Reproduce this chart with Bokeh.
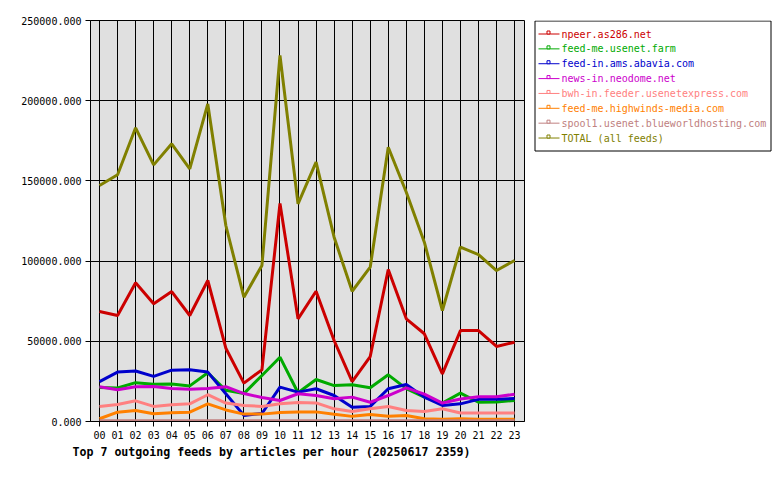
from bokeh.plotting import figure
from bokeh.layouts import row
from bokeh.models import Range1d, FixedTicker, PrintfTickFormatter, Title
from bokeh.core.properties import value
from bokeh.embed import file_html
from bokeh.resources import INLINE

# Hours of the day (x axis)
hours = ["00", "01", "02", "03", "04", "05", "06", "07", "08", "09", "10", "11",
         "12", "13", "14", "15", "16", "17", "18", "19", "20", "21", "22", "23"]

# Articles per hour for each outgoing feed
npeer = [68600, 66100, 86500, 73400, 81000, 66100, 87900, 45700, 23900, 32200, 135900, 64000,
         81200, 50500, 24900, 40500, 94800, 64000, 54700, 29700, 56700, 56700, 46800, 49400]
usenet_farm = [21200, 20900, 24200, 23200, 23400, 22200, 30400, 19500, 17400, 28700, 40100, 17900,
               26200, 22400, 22900, 21000, 29100, 20500, 15200, 11500, 17700, 12000, 12200, 13100]
abavia = [24900, 30800, 31500, 28100, 32000, 32200, 30800, 17300, 3800, 5000, 21400, 18300,
          20400, 16200, 8900, 9400, 20400, 23100, 15200, 10000, 11000, 13800, 13800, 14400]
neodome = [21600, 19800, 21600, 21800, 20600, 20100, 20600, 21700, 17400, 15000, 13100, 17300,
           16200, 14200, 15200, 12000, 16200, 21000, 17100, 11500, 14000, 15400, 15400, 17000]
usenetexpress = [9400, 10600, 12900, 9400, 10500, 11000, 16700, 11500, 10000, 9400, 11000, 11800,
                 11600, 7900, 6300, 7900, 9400, 6900, 6300, 7900, 5300, 5300, 5300, 5300]
highwinds = [1700, 5800, 6900, 4800, 5400, 5800, 11000, 7200, 4600, 4600, 5600, 6000,
             6000, 4500, 3200, 4300, 3200, 3700, 1700, 1400, 1700, 1400, 1400, 1400]
blueworld = [500, 500, 500, 500, 500, 500, 500, 500, 500, 500, 500, 500,
             500, 500, 500, 500, 500, 500, 500, 500, 500, 500, 500, 500]
total = [147100, 153800, 183100, 160000, 173100, 157500, 198000, 122200, 77500, 97300, 228200, 135700,
         161700, 114900, 81200, 96200, 171000, 142900, 111800, 69200, 108700, 104100, 94100, 100400]

feed_names = ["npeer.as286.net", "feed-me.usenet.farm", "feed-in.ams.abavia.com",
              "news-in.neodome.net", "bwh-in.feeder.usenetexpress.com",
              "feed-me.highwinds-media.com", "spool1.usenet.blueworldhosting.com",
              "TOTAL (all feeds)"]
feed_values = [npeer, usenet_farm, abavia, neodome, usenetexpress, highwinds, blueworld, total]
feed_colors = ["#cc0000", "#00aa00", "#0000cc", "#cc00cc", "#ff8080", "#ff8000", "#c08080", "#808000"]

MONO = "DejaVu Sans Mono"
x = list(range(len(hours)))

p = figure(width=530, height=480, output_backend="svg", toolbar_location=None,
           x_range=Range1d(-0.5, 23.55), y_range=Range1d(0, 250000),
           min_border_left=90, min_border_right=6, min_border_top=20, min_border_bottom=59)
p.background_fill_color = "#e0e0e0"
p.border_fill_color = "#ffffff"
p.outline_line_color = "#000000"
p.outline_line_width = 1

for vals, col in zip(feed_values, feed_colors):
    p.line(x, vals, line_color=col, line_width=3)

p.xaxis.ticker = FixedTicker(ticks=x)
p.xaxis.major_label_overrides = {i: h for i, h in enumerate(hours)}
p.yaxis.ticker = FixedTicker(ticks=[0, 50000, 100000, 150000, 200000, 250000])
p.yaxis.formatter = PrintfTickFormatter(format="%.3f")

for ax in (p.xaxis, p.yaxis):
    ax.axis_line_color = "#000000"
    ax.major_tick_line_color = "#000000"
    ax.major_tick_in = 0
    ax.major_tick_out = 5
    ax.minor_tick_line_color = None
    ax.major_label_text_font = MONO
    ax.major_label_text_font_size = "10px"
    ax.major_label_text_color = "#000000"
    ax.major_label_standoff = 4

for g in (p.xgrid, p.ygrid):
    g.grid_line_color = "#000000"
    g.grid_line_width = 1
    g.grid_line_alpha = 1.0
p.xgrid.ticker = FixedTicker(ticks=x)

p.add_layout(Title(text="Top 7 outgoing feeds by articles per hour (20250617 2359)",
                   align="left", offset=-18, text_font=MONO, text_font_style="bold",
                   text_font_size="11.6px", text_color="#000000", standoff=2), "below")

# Legend panel on the right; its frame lines up with the chart frame (y 20..421),
# so the y range is given in pixel rows from the top of the page.
leg = figure(width=250, height=480, output_backend="svg", toolbar_location=None,
             x_range=Range1d(530, 780), y_range=Range1d(421, 20),
             x_axis_type=None, y_axis_type=None,
             min_border_left=0, min_border_right=0, min_border_top=20, min_border_bottom=59)
leg.outline_line_color = None
leg.background_fill_color = "#ffffff"
leg.border_fill_color = "#ffffff"
leg.quad(left=[534.5], right=[770.5], top=[20.5], bottom=[150.5],
         fill_color=None, line_color="#000000", line_width=1)

row_y = [33.5 + 14.86 * i for i in range(len(feed_names))]
for yy, name, col in zip(row_y, feed_names, feed_colors):
    leg.segment(x0=[538], y0=[yy], x1=[559], y1=[yy], line_color=col, line_width=1)
    leg.scatter([548], [yy - 1.5], marker="square", size=3, line_color=col,
                fill_color="#ffffff", line_width=1)
    leg.text([561], [yy], text=[name], text_color=col, text_font=value(MONO),
             text_font_size="10px", text_baseline="middle", text_align="left")

layout = row(p, leg, spacing=0)
open("out.html", "w").write(file_html(layout, INLINE))
